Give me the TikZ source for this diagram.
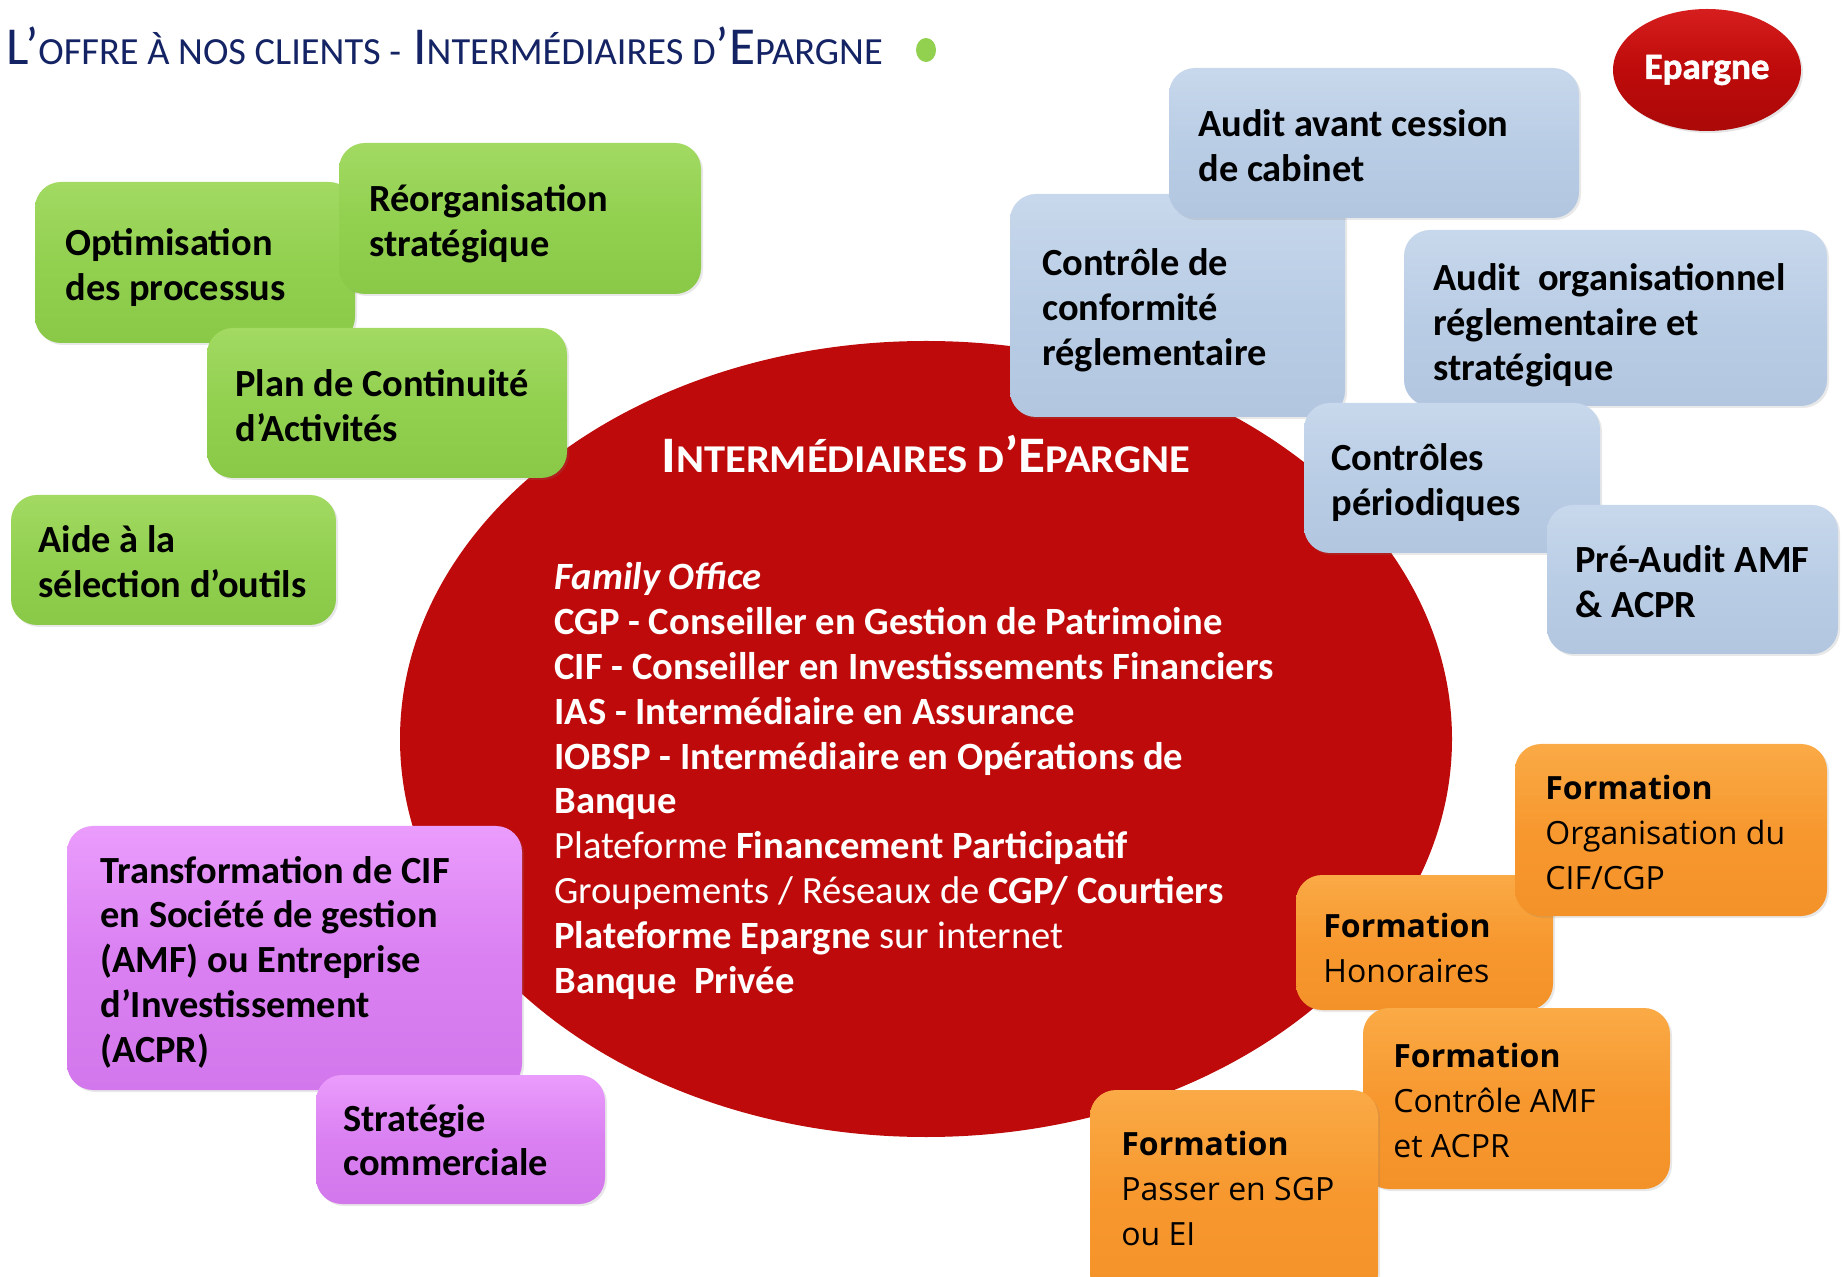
\documentclass[tikz,border=0pt]{standalone}
\usepackage{fontspec}
\setmainfont{Carlito}
\newfontfamily\orfont{Open Sans}
\newfontfamily\heavyfont{Carlito}[BoldFeatures={FakeBold=1.6}]
\usetikzlibrary{fit,shadows,shapes.geometric}
\definecolor{gtop}{RGB}{162,218,98}
\definecolor{gmain}{RGB}{146,208,80}
\definecolor{gbot}{RGB}{138,200,72}
\definecolor{btop}{RGB}{200,216,236}
\definecolor{bmain}{RGB}{185,205,229}
\definecolor{bbot}{RGB}{178,198,224}
\definecolor{ptop}{RGB}{234,156,252}
\definecolor{pmain}{RGB}{218,128,242}
\definecolor{pbot}{RGB}{210,120,236}
\definecolor{otop}{RGB}{250,170,70}
\definecolor{omain}{RGB}{247,152,47}
\definecolor{obot}{RGB}{243,146,40}
\definecolor{redcore}{RGB}{190,10,10}
\definecolor{redtop}{RGB}{214,30,30}
\definecolor{navy}{RGB}{20,35,100}
\newcommand\lns[1]{\begin{tabular}[t]{@{}l@{}}#1\end{tabular}}
\newcommand\tsm[1]{{\fontsize{19.2pt}{21pt}\selectfont #1}}
\newcommand\rsm[1]{{\fontsize{19.7pt}{21pt}\selectfont #1}}
\tikzset{
  boxbase/.style={rounded corners=13pt, inner sep=0pt, draw=none,
    drop shadow={shadow xshift=1pt, shadow yshift=-1pt, opacity=0.18}},
  gbox/.style={boxbase, top color=gtop, bottom color=gbot, middle color=gmain},
  bbox/.style={boxbase, top color=btop, bottom color=bbot, middle color=bmain},
  pbox/.style={boxbase, top color=ptop, bottom color=pbot, middle color=pmain},
  obox/.style={boxbase, top color=otop, bottom color=obot, middle color=omain},
  btxt/.style={anchor=base west, inner sep=0pt, text=black, yshift=-1.5pt,
    font=\fontsize{19.2pt}{22.4pt}\selectfont\bfseries},
  otxt/.style={anchor=base west, inner sep=0pt, text=black, yshift=-1.5pt,
    font=\orfont\fontsize{16pt}{22.7pt}\selectfont},
}
\begin{document}
\begin{tikzpicture}[x=0.5pt,y=-0.5pt]
\useasboundingbox (0,0) rectangle (1842,1277);
\clip (0,0) rectangle (1842,1277);
\fill[white] (0,0) rectangle (1842,1277);

% title
\node[anchor=base west, inner sep=0pt, text=navy, font=\fontsize{26.7pt}{28pt}\selectfont]
  (title) at (6,65) {L’\tsm{OFFRE À NOS CLIENTS -} I\tsm{NTERMÉDIAIRES D}’E\tsm{PARGNE}};
\node[ellipse, fill=gmain, minimum width=10pt, minimum height=12pt, inner sep=0pt] (dot) at (926,50) {};

% Epargne badge
\node[ellipse, minimum width=94pt, minimum height=61pt, inner sep=0pt,
  top color=redtop, bottom color=redcore!90!black, middle color=redcore,
  drop shadow={shadow xshift=1pt, shadow yshift=-1pt, opacity=0.2},
  text=white, font=\heavyfont\fontsize{18.5pt}{20pt}\selectfont\bfseries] (badge) at (1707,70) {\raisebox{-3.5pt}{Epargne}};

% central ellipse
\node[ellipse, minimum width=526pt, minimum height=398pt, inner sep=0pt,
  fill=redcore] (core) at (926,739) {};
\node[anchor=base west, inner sep=0pt, text=white, font=\fontsize{25.6pt}{27pt}\selectfont\bfseries]
  (coretitle) at (661,473) {\scalebox{1.08}[1]{I\rsm{NTERMÉDIAIRES D}’E\rsm{PARGNE}}};
\node[anchor=base west, inner sep=0pt, text=white, yshift=-1.5pt, font=\fontsize{19.3pt}{22.4pt}\selectfont]
  (corelist) at (554,587) {\lns{%
  {\bfseries\itshape Family Office}\\
  \textbf{CGP - Conseiller en Gestion de Patrimoine}\\
  \textbf{CIF - Conseiller en Investissements Financiers}\\
  \textbf{IAS - Intermédiaire en Assurance}\\
  \textbf{IOBSP - Intermédiaire en Opérations de}\\
  \textbf{Banque}\\
  Plateforme \textbf{Financement Participatif}\\
  Groupements / Réseaux de \textbf{CGP/ Courtiers}\\
  \textbf{Plateforme Epargne} sur internet\\
  \textbf{Banque\ \ Privée}}};

% green boxes
\node[gbox, fit={(35,182) (355,343)}] (opt) {};
\node[btxt] (optT) at (65,253) {\lns{Optimisation\\des processus}};
\node[gbox, fit={(339,143) (701,294)}] (reo) {};
\node[btxt] (reoT) at (369,209) {\lns{Réorganisation\\stratégique}};
\node[gbox, fit={(207,328) (567,478)}] (plan) {};
\node[btxt] (planT) at (235,394) {\lns{Plan de Continuité\\d’Activités}};
\node[gbox, fit={(11,495) (336,625)}] (aide) {};
\node[btxt] (aideT) at (38,550) {\lns{Aide à la\\sélection d’outils}};

% blue boxes
\node[bbox, fit={(1010,194) (1345,417)}] (conf) {};
\node[btxt] (confT) at (1042,273) {\lns{Contrôle de\\conformité\\réglementaire}};
\node[bbox, fit={(1169,68) (1579,218)}] (audc) {};
\node[btxt] (audcT) at (1198,134) {\lns{Audit avant cession\\de cabinet}};
\node[bbox, fit={(1404,230) (1827,406)}] (aorg) {};
\node[btxt] (aorgT) at (1433,288) {\lns{Audit\ \ organisationnel\\réglementaire et\\stratégique}};
\node[bbox, fit={(1304,403) (1600,553)}] (cper) {};
\node[btxt] (cperT) at (1331,468) {\lns{Contrôles\\périodiques}};
\node[bbox, fit={(1547,505) (1838,654)}] (pre) {};
\node[btxt] (preT) at (1575,570) {\lns{Pré-Audit AMF\\\& ACPR}};

% purple boxes
\node[pbox, fit={(67,826) (522,1090)}] (trans) {};
\node[btxt] (transT) at (100,880) {\lns{Transformation de CIF\\en Société de gestion\\(AMF) ou Entreprise\\d’Investissement\\(ACPR)}};
\node[pbox, fit={(316,1075) (605,1204)}] (strat) {};
\node[btxt] (stratT) at (343,1128) {\lns{Stratégie\\commerciale}};

% orange boxes
\node[obox, fit={(1296,875) (1553,1010)}] (fhon) {};
\node[otxt] (fhonT) at (1323,934) {\lns{\textbf{Formation}\\Honoraires}};
\node[obox, fit={(1515,744) (1827,916)}] (forg) {};
\node[otxt] (forgT) at (1545,796) {\lns{\textbf{Formation}\\Organisation du\\CIF/CGP}};
\node[obox, fit={(1363,1008) (1670,1189)}] (fctl) {};
\node[otxt] (fctlT) at (1393,1064) {\lns{\textbf{Formation}\\Contrôle AMF\\et ACPR}};
\node[obox, fit={(1090,1090) (1378,1300)}] (fsgp) {};
\node[otxt] (fsgpT) at (1121,1152) {\lns{\textbf{Formation}\\Passer en SGP\\ou EI}};
\end{tikzpicture}
\end{document}
